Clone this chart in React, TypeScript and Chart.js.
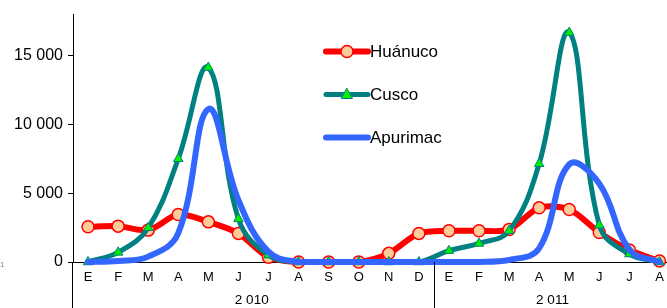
import React, { useEffect, useRef } from "react";
import { Chart, registerables } from "chart.js";

Chart.register(...registerables);

const months = ["E", "F", "M", "A", "M", "J", "J", "A", "S", "O", "N", "D", "E", "F", "M", "A", "M", "J", "J", "A"];
const years = ["2 010", "2 011"];
const seriesNames = ["Huánuco", "Cusco", "Apurimac"];
const huanuco = [2560, 2610, 2320, 3450, 2920, 2080, 340, 0, 0, 0, 630, 2080, 2270, 2270, 2370, 3940, 3820, 2150, 870, 70];
const cusco = [0, 700, 2490, 7510, 14150, 3140, 500, 0, 0, 0, 0, 0, 820, 1350, 2270, 7150, 16690, 2680, 580, 0];
const apurimac = [0, 80, 390, 2100, 11130, 4500, 750, 0, 0, 0, 0, 0, 0, 0, 150, 1000, 7100, 5700, 900, 0];
const yTicks = [0, 5000, 10000, 15000];
const yMax = 18000;

const RED = "#FF0000";
const PEACH = "#FFCC99";
const TEAL = "#008080";
const GREEN = "#00F000";
const BLUE = "#3366FF";
const FONT = "'Liberation Sans', Arial, sans-serif";

function fmt(v: number): string {
  return String(v).replace(/\B(?=(\d{3})+(?!\d))/g, " ");
}

const extrasPlugin = {
  id: "extras",
  afterDraw(chart: any) {
    const ctx = chart.ctx as CanvasRenderingContext2D;
    const area = chart.chartArea;
    const xs = chart.scales.x;
    const H = chart.height;
    ctx.save();
    ctx.strokeStyle = "#000";
    ctx.lineWidth = 1;
    ctx.beginPath();
    const lx = Math.round(area.left) - 0.5;
    ctx.moveTo(lx, area.bottom);
    ctx.lineTo(lx, H);
    const sepX = Math.round((xs.getPixelForValue(11) + xs.getPixelForValue(12)) / 2) + 0.5;
    ctx.moveTo(sepX, area.bottom);
    ctx.lineTo(sepX, H);
    ctx.stroke();
    ctx.fillStyle = "#000";
    ctx.font = `13.5px ${FONT}`;
    ctx.textAlign = "center";
    ctx.textBaseline = "middle";
    const bounds = [area.left, sepX, area.right];
    years.forEach((y, i) => {
      const cx = (bounds[i] + bounds[i + 1]) / 2;
      ctx.fillText(y, cx - 2, 300);
    });
    ctx.fillStyle = "#888";
    ctx.font = `8px ${FONT}`;
    ctx.textAlign = "left";
    ctx.fillText("1", 0, 265);
    const rowsY = [51.5, 94.5, 137.5];
    const colors = [RED, TEAL, BLUE];
    const lx0 = 326;
    const lx1 = 368;
    const mx = 347;
    seriesNames.forEach((name, i) => {
      const y = rowsY[i];
      ctx.strokeStyle = colors[i];
      ctx.lineWidth = i === 1 ? 5 : 6;
      ctx.lineCap = "round";
      ctx.beginPath();
      ctx.moveTo(lx0, y);
      ctx.lineTo(lx1, y);
      ctx.stroke();
      if (i === 0) {
        ctx.beginPath();
        ctx.arc(mx, y, 6, 0, Math.PI * 2);
        ctx.fillStyle = PEACH;
        ctx.fill();
        ctx.lineWidth = 1.5;
        ctx.strokeStyle = RED;
        ctx.stroke();
      } else if (i === 1) {
        ctx.beginPath();
        ctx.moveTo(mx, y - 6);
        ctx.lineTo(mx + 5.5, y + 4);
        ctx.lineTo(mx - 5.5, y + 4);
        ctx.closePath();
        ctx.fillStyle = GREEN;
        ctx.fill();
        ctx.lineWidth = 1;
        ctx.strokeStyle = TEAL;
        ctx.stroke();
      }
      ctx.fillStyle = "#000";
      ctx.font = `17px ${FONT}`;
      ctx.textAlign = "left";
      ctx.textBaseline = "middle";
      ctx.fillText(name, 370, y + 1);
    });
    ctx.restore();
  },
};

export default function App() {
  const ref = useRef<HTMLCanvasElement | null>(null);
  useEffect(() => {
    if (!ref.current) return;
    const chart = new Chart(ref.current, {
      type: "line",
      data: {
        labels: months,
        datasets: [
          {
            label: seriesNames[0],
            data: huanuco,
            borderColor: RED,
            borderWidth: 6,
            backgroundColor: PEACH,
            pointBackgroundColor: PEACH,
            pointBorderColor: RED,
            pointBorderWidth: 1.5,
            pointRadius: 6,
            pointStyle: "circle",
            tension: 0.3,
            borderCapStyle: "round",
            borderJoinStyle: "round",
            clip: false as any,
            order: 2,
          },
          {
            label: seriesNames[1],
            data: cusco,
            borderColor: TEAL,
            borderWidth: 5,
            backgroundColor: GREEN,
            pointBackgroundColor: GREEN,
            pointBorderColor: TEAL,
            pointBorderWidth: 1,
            pointRadius: 5.5,
            pointStyle: "triangle",
            tension: 0.4,
            borderCapStyle: "round",
            borderJoinStyle: "round",
            clip: false as any,
            order: 1,
          },
          {
            label: seriesNames[2],
            data: apurimac,
            borderColor: BLUE,
            borderWidth: 6,
            pointRadius: 0,
            tension: 0.4,
            borderCapStyle: "round",
            borderJoinStyle: "round",
            clip: false as any,
            order: 0,
          },
        ],
      },
      options: {
        animation: false,
        responsive: false,
        devicePixelRatio: 1,
        layout: { padding: { top: 13, left: 0, right: 0, bottom: 0 } },
        plugins: { legend: { display: false }, tooltip: { enabled: false } },
        scales: {
          x: {
            offset: true,
            grid: { display: false, drawTicks: false },
            border: { display: true, color: "#000", width: 1 },
            ticks: { color: "#000", font: { family: FONT, size: 13 }, padding: 8, maxRotation: 0, autoSkip: false },
            afterFit: (s: any) => {
              s.height = 46;
            },
          },
          y: {
            min: 0,
            max: yMax,
            grid: { drawOnChartArea: false, drawTicks: true, tickLength: 5, color: "#000" },
            border: { display: true, color: "#000", width: 1 },
            afterBuildTicks: (s: any) => {
              s.ticks = yTicks.map((v) => ({ value: v }));
            },
            ticks: {
              color: "#000",
              padding: 5,
              font: { family: FONT, size: 16 },
              callback: (v: any) => fmt(Number(v)),
            },
            afterFit: (s: any) => {
              s.width = 73;
            },
          },
        },
      },
      plugins: [extrasPlugin],
    });
    return () => chart.destroy();
  }, []);
  return (
    <div style={{ position: "fixed", left: 0, top: 0, width: 667, height: 308, overflow: "hidden", background: "#fff" }}>
      <canvas ref={ref} width={682} height={308} style={{ display: "block", width: 682, height: 308 }} />
    </div>
  );
}
